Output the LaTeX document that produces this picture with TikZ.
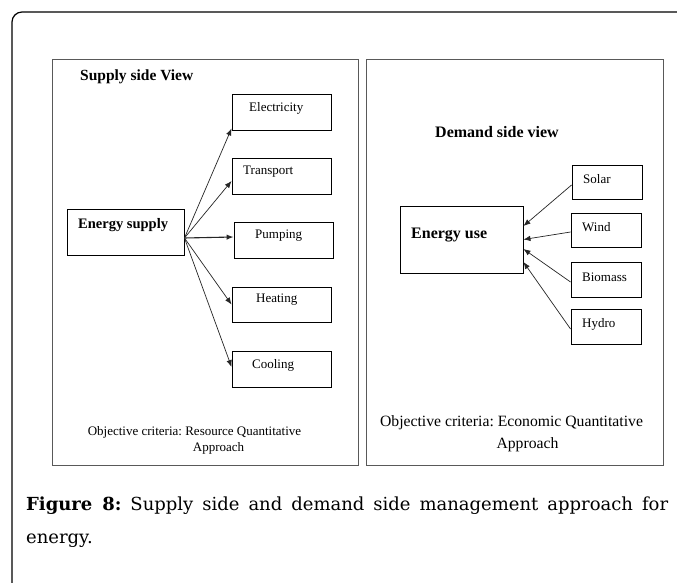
\documentclass[tikz,border=0pt]{standalone}
\usepackage{fontspec}
\setmainfont{Liberation Serif}
\newfontfamily\capfont{DejaVu Serif}
\usetikzlibrary{arrows.meta}
\frenchspacing
\begin{document}
\begin{tikzpicture}[x=1pt,y=-1pt,
  panel/.style={draw=black!65,line width=0.9pt},
  box/.style={draw=black,line width=0.9pt,inner sep=0pt},
  lbl/.style={anchor=west,inner sep=0pt,font=\fontsize{13}{15}\selectfont},
  head/.style={anchor=west,inner sep=0pt,font=\fontsize{15.5}{18}\selectfont\bfseries},
  crit/.style={inner sep=0pt},
  arr/.style={-{Latex[length=7pt,width=5.5pt]},line width=0.7pt,black!85},
  captxt/.style={anchor=base west,inner sep=0pt,font=\capfont\fontsize{18}{33}\selectfont}
]
\useasboundingbox (0,0) rectangle (677,583);
\clip (0,0) rectangle (677,583);
\fill[white] (0,0) rectangle (677,583);
% outer frame
\draw[line width=1.2pt,rounded corners=10pt] (12,600) -- (12,12) -- (700,12);

% panels
\node[panel,minimum width=306pt,minimum height=406pt,inner sep=0pt] (lpanel) at (205,262) {};
\node[panel,minimum width=297pt,minimum height=406pt,inner sep=0pt] (rpanel) at (514.5,262) {};

% supply side
\node[head] (shead) at (80,77) {Supply side View};
\node[box,minimum width=117pt,minimum height=46pt] (supply) at (125.5,232) {};
\node[head,font=\fontsize{14.5}{17}\selectfont\bfseries] at (78,225) {Energy supply};

\node[box,minimum width=99pt,minimum height=36pt] (elec) at (281.5,112) {};
\node[lbl] at (249,108) {Electricity};
\node[box,minimum width=99pt,minimum height=36pt] (trans) at (281.5,176) {};
\node[lbl] at (243,172) {Transport};
\node[box,minimum width=99pt,minimum height=36pt] (pump) at (283.5,240) {};
\node[lbl] at (255,236) {Pumping};
\node[box,minimum width=99pt,minimum height=35pt] (heat) at (281.5,304.5) {};
\node[lbl] at (256,300) {Heating};
\node[box,minimum width=99pt,minimum height=36pt] (cool) at (281.5,369) {};
\node[lbl] at (252,365) {Cooling};

\coordinate (src) at ([yshift=-6pt]supply.east);
\draw[arr] (src) -- ([yshift=2pt]elec.south west);
\draw[arr] (src) -- ([yshift=-5pt]trans.west);
\draw[arr,line width=1.1pt] (src) -- ([yshift=3pt]pump.west);
\draw[arr] (src) -- (heat.west);
\draw[arr] (src) -- ([yshift=2pt]cool.west);

\node[crit,font=\fontsize{13}{15}\selectfont] (lc1) at (194.5,432) {Objective criteria: Resource Quantitative};
\node[crit,font=\fontsize{13}{15}\selectfont] (lc2) at (218.5,448) {Approach};

% demand side
\node[head,font=\fontsize{16}{19}\selectfont\bfseries] (dhead) at (435,132) {Demand side view};
\node[box,minimum width=123pt,minimum height=67pt] (use) at (461.5,239.5) {};
\node[head,font=\fontsize{16}{19}\selectfont\bfseries] at (411,235) {Energy use};

\node[box,minimum width=70pt,minimum height=34pt] (solar) at (607,182) {};
\node[lbl] at (583,179) {Solar};
\node[box,minimum width=70pt,minimum height=34pt] (wind) at (606,230) {};
\node[lbl] at (582,227) {Wind};
\node[box,minimum width=70pt,minimum height=35pt] (bio) at (606,279.5) {};
\node[lbl] at (582,277) {Biomass};
\node[box,minimum width=70pt,minimum height=35pt] (hydro) at (606,326.5) {};
\node[lbl] at (582,324) {Hydro};

\draw[arr] ([yshift=-3pt]solar.west) -- ([yshift=13.5pt]use.east);
\draw[arr] ([yshift=-2pt]wind.west) -- (use.east);
\draw[arr] ([yshift=-2.5pt]bio.west) -- ([yshift=-9.5pt]use.east);
\draw[arr] ([yshift=-2.5pt]hydro.west) -- ([yshift=-22.5pt]use.east);

\node[crit,font=\fontsize{15.7}{18}\selectfont] (rc1) at (511.5,423) {Objective criteria: Economic Quantitative};
\node[crit,font=\fontsize{15.7}{18}\selectfont] (rc2) at (527.5,445) {Approach};

% caption
\node[captxt] (cap1) at (26,510)
  {\makebox[642pt][s]{\textbf{Figure 8:} Supply side and demand side management approach for}};
\node[captxt] (cap2) at (26,543) {energy.};
\end{tikzpicture}
\end{document}
